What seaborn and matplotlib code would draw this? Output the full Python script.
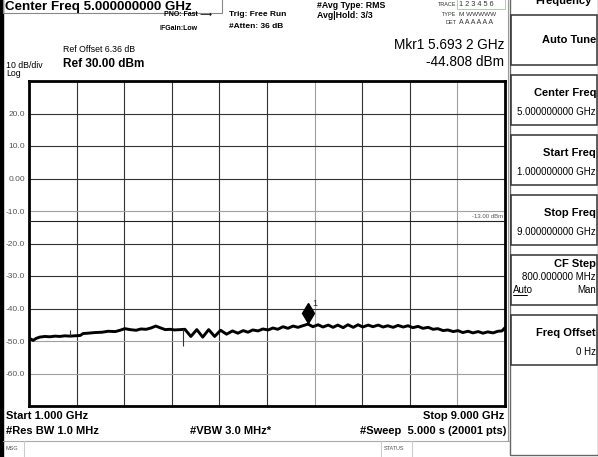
import numpy as np
import pandas as pd
import matplotlib
matplotlib.use("Agg")
import matplotlib.pyplot as plt
from matplotlib.patches import Rectangle
import seaborn as sns

W, H = 598, 457

# ---------------------------------------------------------------------------
# Data
# ---------------------------------------------------------------------------

trace_freq = [
    1.00, 1.03, 1.07, 1.12, 1.18, 1.27, 1.35, 1.44, 1.52, 1.60,
    1.69, 1.77, 1.86, 1.91, 1.99, 2.11, 2.23, 2.33, 2.45, 2.53,
    2.61, 2.70, 2.80, 2.88, 2.97, 3.05, 3.13, 3.20, 3.29, 3.37,
    3.45, 3.54, 3.62, 3.72, 3.82, 3.92, 4.02, 4.12, 4.22, 4.32,
    4.42, 4.51, 4.60, 4.68, 4.76, 4.85, 4.93, 5.02, 5.10, 5.18,
    5.27, 5.35, 5.44, 5.52, 5.62, 5.69, 5.77, 5.86, 5.94, 6.03,
    6.11, 6.19, 6.28, 6.36, 6.45, 6.53, 6.61, 6.70, 6.78, 6.87,
    6.95, 7.03, 7.12, 7.20, 7.29, 7.37, 7.45, 7.54, 7.62, 7.71,
    7.79, 7.87, 7.96, 8.04, 8.13, 8.21, 8.29, 8.38, 8.46, 8.55,
    8.63, 8.71, 8.80, 8.88, 8.95, 9.00,
]
trace_level = [
    -49.1, -49.4, -49.8, -49.2, -48.8, -48.6, -48.7, -48.5, -48.6, -48.4,
    -48.5, -48.4, -48.3, -47.7, -47.6, -47.4, -47.3, -47.0, -47.1, -46.7,
    -46.2, -46.5, -46.7, -46.3, -46.4, -46.0, -45.4, -45.9, -46.5, -46.4,
    -46.6, -46.5, -46.4, -48.6, -46.5, -48.8, -46.5, -48.6, -46.7, -47.9,
    -46.9, -47.6, -46.8, -47.3, -46.6, -46.9, -46.3, -46.6, -46.0, -46.4,
    -45.6, -46.1, -45.4, -45.8, -45.2, -44.8, -45.6, -45.0, -45.7, -45.1,
    -45.8, -45.1, -45.9, -45.0, -45.8, -45.0, -45.7, -45.1, -45.6, -45.1,
    -45.7, -45.3, -45.8, -45.2, -45.7, -45.3, -45.9, -45.5, -46.1, -45.8,
    -46.4, -46.2, -46.8, -46.6, -47.1, -46.8, -47.4, -47.0, -47.5, -47.1,
    -47.6, -47.2, -47.5, -47.0, -46.9, -45.9,
]

# single-sample glitches on the trace
glitch_freq = [1.69, 3.59]
glitch_lo = [-48.4, -51.4]
glitch_hi = [-46.6, -46.3]

mkr_freq = 5.6932
mkr_level = -44.808
mkr_symbol_level = -41.5

display_line = -13.0

freq_ticks = [1.0, 1.8, 2.6, 3.4, 4.2, 5.0, 5.8, 6.6, 7.4, 8.2, 9.0]
level_ticks = [30, 20, 10, 0, -10, -20, -30, -40, -50, -60, -70]
level_labels = ["", "20.0", "10.0", "0.00", "-10.0", "-20.0", "-30.0",
                "-40.0", "-50.0", "-60.0", ""]

softkey_titles = ["Auto Tune", "Center Freq", "Start Freq", "Stop Freq",
                  "CF Step", "Freq Offset"]
softkey_values = ["", "5.000000000 GHz", "1.000000000 GHz",
                  "9.000000000 GHz", "800.000000 MHz", "0 Hz"]

# ---------------------------------------------------------------------------
# Figure
# ---------------------------------------------------------------------------

sns.set_style("white")
plt.rcParams["font.family"] = ["Liberation Sans", "DejaVu Sans"]

fig = plt.figure(figsize=(W / 100, H / 100), dpi=100)
fig.patch.set_facecolor("white")

# screen chrome in pixel coordinates
bg = fig.add_axes([0, 0, 1, 1])
bg.set_xlim(0, W)
bg.set_ylim(H, 0)
bg.axis("off")


def txt(x, y, s, size=7, bold=False, ha="left", color="black", **kw):
    bg.text(x, y, s, fontsize=size, fontweight="bold" if bold else "normal",
            ha=ha, va="center", color=color, **kw)


# left bezel
bg.add_patch(Rectangle((0, 0), 3, H, color="black"))

# header
bg.add_patch(Rectangle((3, -2), 219, 15, fill=False, ec="#888888", lw=0.8))
txt(5, 7, "Center Freq 5.000000000 GHz", size=9.6, bold=True)
txt(164, 15, "PNO: Fast", size=5, bold=True)
txt(199, 14, "\u27f6", size=6, family=["DejaVu Sans"])
txt(160, 28, "IFGain:Low", size=5, bold=True)
txt(229, 15, "Trig: Free Run", size=6, bold=True)
txt(229, 27, "#Atten: 36 dB", size=6, bold=True)
txt(317, 5, "#Avg Type: RMS", size=6.3, bold=True)
txt(317, 15, "Avg|Hold: 3/3", size=6.3, bold=True)

txt(456, 5, "TRACE", size=4, ha="right", color="#333333")
txt(456, 14, "TYPE", size=4, ha="right", color="#333333")
txt(456, 23, "DET", size=4, ha="right", color="#333333")
txt(459, 5, "1 2 3 4 5 6", size=5.3, color="#333333")
txt(459, 14, "M WWWWW", size=4.6, color="#333333")
txt(459, 23, "A A A A A A", size=5, color="#333333")
bg.add_patch(Rectangle((457, -1), 48, 10, fill=False, ec="#9fc79f", lw=0.6))

txt(504, 45, "Mkr1 5.693 2 GHz", size=9.8, ha="right")
txt(504, 62, f"{mkr_level:.3f} dBm", size=9.8, ha="right")

txt(63, 50, "Ref Offset 6.36 dB", size=6.3)
txt(63, 64, "Ref 30.00 dBm", size=8.5, bold=True)
txt(6, 66, "10 dB/div", size=6.3)
txt(6, 74, "Log", size=6.3)

# footer
txt(6, 416, "Start 1.000 GHz", size=8, bold=True)
txt(504, 416, "Stop 9.000 GHz", size=8, bold=True, ha="right")
txt(6, 431, "#Res BW 1.0 MHz", size=8, bold=True)
txt(190, 431, "#VBW 3.0 MHz*", size=8, bold=True)
txt(506, 431, "#Sweep  5.000 s (20001 pts)", size=8, bold=True, ha="right")

bg.plot([3, 509], [441, 441], color="#aaaaaa", lw=0.8)
for xd in (24, 381, 412):
    bg.plot([xd, xd], [441, H], color="#cccccc", lw=0.8)
txt(5, 449, "MSG", size=4, color="#555555")
txt(384, 449, "STATUS", size=4, color="#555555")

# softkey panel
bg.plot([508, 508], [0, 441], color="#999999", lw=0.8)
bg.add_patch(Rectangle((510, -2), 88, 457, fill=False, ec="#666666", lw=1))
txt(563, 1, "Frequency", size=8, ha="center", bold=True)
box_tops = [15, 75, 135, 195, 255, 315]
for top, title, value in zip(box_tops, softkey_titles, softkey_values):
    bg.add_patch(Rectangle((511, top), 86, 50, fill=False, ec="#333333", lw=1.1))
    if title == "Auto Tune":
        txt(596, top + 25, title, size=8, bold=True, ha="right")
    elif title == "CF Step":
        txt(596, top + 9, title, size=8, bold=True, ha="right")
        txt(596, top + 22, value, size=7, ha="right")
        txt(513, top + 35, "Auto", size=7)
        bg.plot([513, 527], [top + 40, top + 40], color="black", lw=0.7)
        txt(596, top + 35, "Man", size=7, ha="right")
    else:
        txt(596, top + 18, title, size=8, bold=True, ha="right")
        txt(596, top + 37, value, size=7, ha="right")

# ---------------------------------------------------------------------------
# Trace display
# ---------------------------------------------------------------------------

ax = fig.add_axes([29 / W, 1 - 406 / H, 476 / W, 325 / H])
ax.set_facecolor("white")

df = pd.DataFrame({"freq": trace_freq, "level": trace_level})
sns.lineplot(data=df, x="freq", y="level", ax=ax, color="black", lw=2.1,
             estimator=None, sort=False, zorder=5)
ax.vlines(glitch_freq, glitch_lo, glitch_hi, color="#333333", lw=0.8, zorder=5)

ax.set_xlim(freq_ticks[0], freq_ticks[-1])
ax.set_ylim(level_ticks[-1], level_ticks[0])
ax.set_xticks(freq_ticks)
ax.set_xticklabels([])
ax.set_yticks(level_ticks)
ax.set_yticklabels(level_labels)
ax.tick_params(axis="both", length=0)
ax.tick_params(axis="y", labelsize=6, labelcolor="#555555", pad=3)
ax.set_xlabel("")
ax.set_ylabel("")

ax.grid(True, color="#333333", lw=0.8)
for gl, lv in zip(ax.get_ygridlines(), level_ticks):
    if lv in (-10, -50, -60):
        gl.set_color("#a0a0a0")
for gl, fq in zip(ax.get_xgridlines(), freq_ticks):
    if fq in (5.8, 8.2):
        gl.set_color("#a0a0a0")

ax.axhline(display_line, color="#222222", lw=0.8, zorder=3)
ax.text(freq_ticks[-1] - 0.03, display_line + 0.4, f"{display_line:.2f} dBm",
        ha="right", va="bottom", fontsize=4.3, color="#555555")

ax.plot([mkr_freq], [mkr_symbol_level], marker="d", ms=10, color="black",
        zorder=6)
ax.annotate("1", (mkr_freq, mkr_symbol_level), xytext=(3, 5),
            textcoords="offset points", fontsize=6.5, zorder=6)

for sp in ax.spines.values():
    sp.set_color("black")
    sp.set_linewidth(2)

fig.savefig("out.png", dpi=100)
